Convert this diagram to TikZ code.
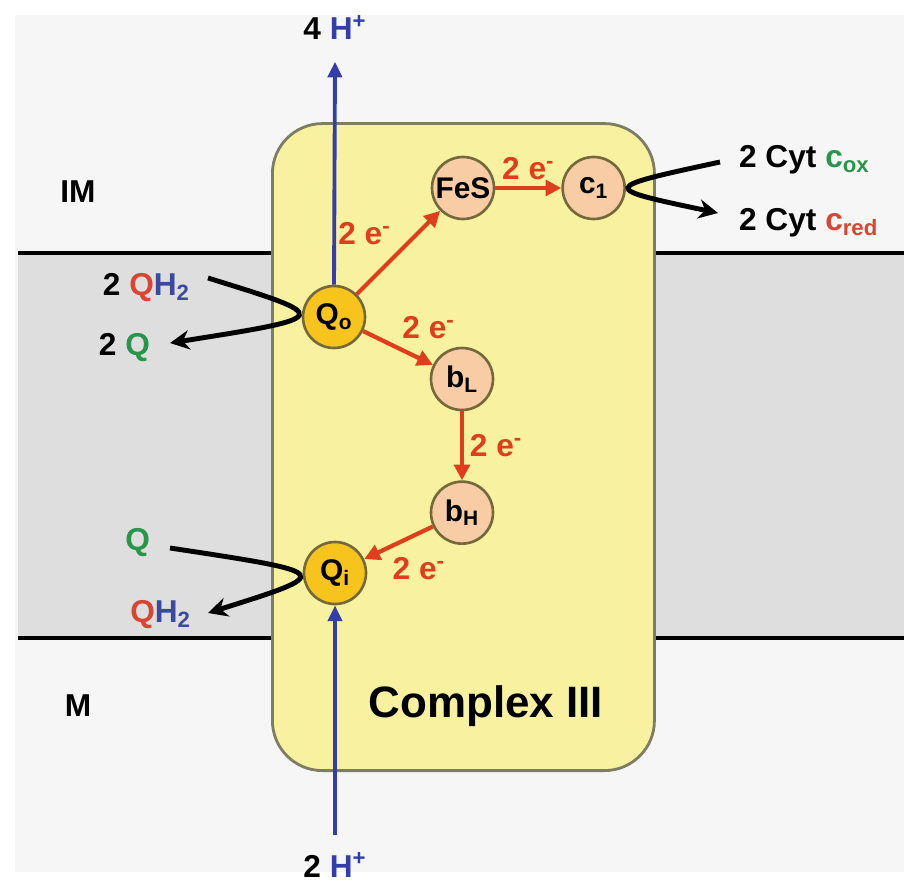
\documentclass[tikz,border=0pt]{standalone}
\usepackage{fontspec}
\setmainfont{Liberation Sans}
\usetikzlibrary{arrows.meta, positioning}

\definecolor{bggray}{RGB}{246,246,246}
\definecolor{memgray}{RGB}{222,222,222}
\definecolor{boxyellow}{RGB}{248,241,160}
\definecolor{boxline}{RGB}{125,125,100}
\definecolor{sitegold}{RGB}{246,196,28}
\definecolor{peach}{RGB}{248,204,164}
\definecolor{siteline}{RGB}{115,105,60}
\definecolor{eorange}{RGB}{222,62,30}
\definecolor{hblue}{RGB}{52,62,170}
\definecolor{qred}{RGB}{214,70,48}
\definecolor{qblue}{RGB}{58,74,160}
\definecolor{qgreen}{RGB}{40,150,72}

\begin{document}
\begin{tikzpicture}[
	site/.style={circle, draw=siteline, line width=1.5pt, fill=sitegold, minimum size=1.24cm, inner sep=0pt, font=\fontsize{17}{19}\selectfont\bfseries},
	carrier/.style={site, fill=peach},
	lbl/.style={font=\fontsize{18}{20}\selectfont\bfseries, inner sep=1pt},
	elab/.style={font=\fontsize{18}{20}\selectfont\bfseries, text=eorange},
	eflow/.style={-{Triangle[length=9pt,width=9pt]}, line width=2.4pt, draw=eorange},
	hflow/.style={-{Triangle[length=9pt,width=8pt]}, line width=2.2pt, draw=hblue},
	swap/.style={-{Stealth[length=11pt,width=11pt]}, line width=2.8pt}
]
	% Background
	\useasboundingbox (0,0) rectangle (18.08,17.74);
	\fill[white] (0,0) rectangle (18.08,17.74);
	\fill[bggray] (0.3,0.3) rectangle (18.08,17.44);

	% Membrane
	\fill[memgray] (0.36,4.98) rectangle (18.08,12.68);
	\draw[line width=2.8pt] (0.36,12.68) -- (18.08,12.68);
	\draw[line width=2.8pt] (0.36,4.98) -- (18.08,4.98);
	\node[lbl] (im) at (1.56,13.9) {IM};
	\node[lbl] (mx) at (1.56,3.62) {M};

	% Complex III
	\node[draw=boxline, line width=1.6pt, fill=boxyellow, rounded corners=1cm, minimum width=7.64cm, minimum height=12.94cm, anchor=south west] (cplx) at (5.42,2.30) {};
	\node[font=\fontsize{25}{28}\selectfont\bfseries] (cname) at (9.72,3.62) {Complex III};

	% Protons
	\node[lbl] (hout) at (6.7,17.18) {4 \textcolor{hblue}{H\textsuperscript{+}}};
	\node[lbl] (hin) at (6.7,0.44) {2 \textcolor{hblue}{H\textsuperscript{+}}};

	% Sites and carriers
	\node[site] (qo) at (6.68,11.40) {Q\textsubscript{o}};
	\node[site] (qi) at (6.70,6.28) {Q\textsubscript{i}};
	\node[carrier] (fes) at (9.26,13.98) {FeS};
	\node[carrier, right=1.32cm of fes] (c1) {c\textsubscript{1}};
	\node[carrier] (bl) at (9.24,10.16) {b\textsubscript{L}};
	\node[carrier, below=1.38cm of bl] (bh) {b\textsubscript{H}};

	\draw[hflow] (qo.north) -- ([yshift=-0.39cm]hout.south);
	\draw[hflow] ([yshift=0.31cm]hin.north) -- (qi.south);

	% Electron path
	\draw[eflow] (qo) -- node[midway, above left, elab] {2 e\textsuperscript{-}} (fes);
	\draw[eflow] (fes) -- node[midway, above, elab] {2 e\textsuperscript{-}} (c1);
	\draw[eflow] (qo) -- node[pos=0.45, above right, elab] {2 e\textsuperscript{-}} (bl);
	\draw[eflow] (bl) -- node[midway, right, elab] {2 e\textsuperscript{-}} (bh);
	\draw[eflow] (bh) -- node[pos=0.7, below right, elab] {2 e\textsuperscript{-}} (qi);

	% Quinone exchange
	\node[lbl, anchor=east] (qhA) at (3.84,11.98) {2 \textcolor{qred}{Q}\textcolor{qblue}{H\textsubscript{2}}};
	\node[lbl, anchor=east] (qA) at (3.04,10.78) {2 \textcolor{qgreen}{Q}};
	\draw[swap] ([shift={(0.32,0.2)}]qhA.east) .. controls (qo.center) and (qo.center) .. ([shift={(0.36,0.1)}]qA.east);

	\node[lbl, anchor=east] (qB) at (3.04,6.88) {\textcolor{qgreen}{Q}};
	\node[lbl, anchor=east] (qhB) at (3.86,5.44) {\textcolor{qred}{Q}\textcolor{qblue}{H\textsubscript{2}}};
	\draw[swap] ([shift={(0.36,-0.1)}]qB.east) .. controls (qi.center) and (qi.center) .. ([shift={(0.30,0.04)}]qhB.east);

	% Cytochrome c
	\node[lbl, anchor=base west] (cox) at (14.74,14.38) {2 Cyt \textcolor{qgreen}{c\textsubscript{ox}}};
	\node[lbl, anchor=base west] (cred) at (14.74,13.14) {2 Cyt \textcolor{qred}{c\textsubscript{red}}};
	\draw[swap] ([shift={(-0.34,0.12)}]cox.base west) .. controls ([xshift=0.12cm]c1.center) and ([xshift=0.12cm]c1.center) .. ([shift={(-0.38,0.34)}]cred.base west);
\end{tikzpicture}
\end{document}
